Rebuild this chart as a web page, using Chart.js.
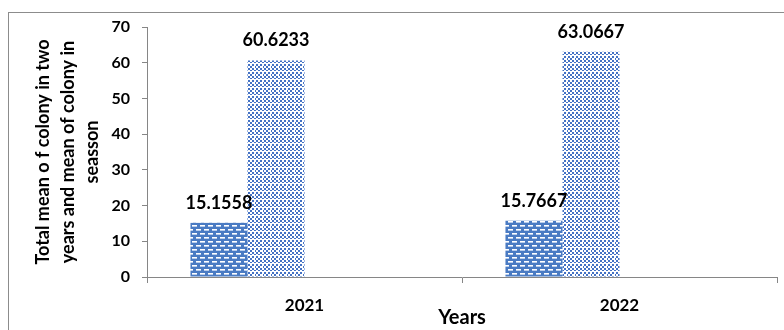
<!DOCTYPE html>
<html>
<head>
<meta charset="utf-8">
<script src="https://cdn.jsdelivr.net/npm/chart.js"></script>
<style>
  html, body { margin: 0; padding: 0; background: #fff; }
  #wrap { width: 784px; height: 330px; position: relative; }
</style>
</head>
<body>
<div id="wrap"><canvas id="myChart" width="784" height="330"></canvas></div>
<script>
// data
const years = ["2021", "2022"];
const meanTwoYears = [15.1558, 15.7667];
const meanSeason = [60.6233, 63.0667];
const emptySeries = [null, null];   // Excel left room for two more series
const yTitleLines = ["Total mean o f colony in two", "years and mean of colony in", "seasson"];
const xTitle = "Years";

const FONT = "Lato, 'Open Sans', sans-serif";
const AXIS_GRAY = "#868686";

function makePattern(w, h, draw) {
    const c = document.createElement("canvas");
    c.width = w;
    c.height = h;
    const g = c.getContext("2d");
    draw(g);
    return g.createPattern(c, "repeat");
}

// blue with staggered white dashes
const dashPattern = makePattern(8, 8, (g) => {
    g.fillStyle = "#4a7bc3";
    g.fillRect(0, 0, 8, 8);
    g.fillStyle = "#ffffff";
    g.fillRect(0, 1, 5, 1);
    g.fillRect(4, 5, 5, 1);
    g.fillRect(0, 5, 1, 1);
    g.fillStyle = "#b9cdeb";
    g.fillRect(0, 2, 5, 1);
    g.fillRect(4, 6, 4, 1);
    g.fillRect(0, 6, 1, 1);
});

// small blue/white checker with white seams
const checkPattern = makePattern(8, 8, (g) => {
    g.fillStyle = "#ffffff";
    g.fillRect(0, 0, 8, 8);
    g.fillStyle = "#4472c4";
    for (let y = 0; y < 8; y += 2) {
        for (let x = 0; x < 8; x += 2) {
            if (((x + y) / 2) % 2 === 0) g.fillRect(x, y, 2, 2);
        }
    }
    g.fillStyle = "#ffffff";
    g.fillRect(0, 7, 8, 1);
    g.fillRect(6, 2, 1, 3);
});

const frame = {
    id: "frame",
    beforeDraw(chart) {
        const ctx = chart.ctx;
        ctx.save();
        ctx.fillStyle = "#fff";
        ctx.fillRect(0, 0, chart.width, chart.height);
        ctx.strokeStyle = "#8c8c8c";
        ctx.lineWidth = 1;
        ctx.strokeRect(8.5, 12.5, 900, 500);
        ctx.restore();
    }
};

const barLabels = {
    id: "barLabels",
    afterDatasetsDraw(chart) {
        const ctx = chart.ctx;
        ctx.save();
        ctx.font = "bold 18px " + FONT;
        ctx.fillStyle = "#000";
        ctx.textAlign = "center";
        ctx.textBaseline = "bottom";
        chart.data.datasets.forEach((ds, i) => {
            chart.getDatasetMeta(i).data.forEach((bar, j) => {
                if (ds.data[j] == null) return;
                ctx.fillText(String(ds.data[j]), bar.x, bar.y - 11);
            });
        });
        ctx.restore();
    }
};

const data = {
    labels: years,
    datasets: [
        { label: "Two years", data: meanTwoYears, backgroundColor: dashPattern, borderWidth: 0 },
        { label: "Season", data: meanSeason, backgroundColor: checkPattern, borderWidth: 0 },
        { label: "", data: emptySeries },
        { label: "", data: emptySeries }
    ]
};

const config = {
    type: "bar",
    data,
    options: {
        responsive: false,
        animation: false,
        categoryPercentage: 0.724,
        barPercentage: 1,
        layout: { padding: { top: 27, right: 7, left: 0, bottom: 0 } },
        plugins: {
            legend: { display: false },
            tooltip: { enabled: false }
        },
        scales: {
            x: {
                grid: { offset: true, drawOnChartArea: false, tickLength: 6, color: AXIS_GRAY },
                border: { color: AXIS_GRAY },
                ticks: { color: "#000", padding: 12, font: { family: FONT, size: 17, weight: "bold" } },
                title: {
                    display: true, text: xTitle, color: "#000",
                    font: { family: FONT, size: 20, weight: "bold", lineHeight: 1.2 },
                    padding: { top: 0, bottom: 0 }
                },
                afterFit(s) { s.height = 53; }
            },
            y: {
                min: 0,
                max: 70,
                grid: { drawOnChartArea: false, tickLength: 5, color: AXIS_GRAY },
                border: { color: AXIS_GRAY },
                ticks: { stepSize: 10, color: "#000", padding: 12, font: { family: FONT, size: 16, weight: "bold" } },
                title: {
                    display: true, text: yTitleLines, color: "#000",
                    font: { family: FONT, size: 18, weight: "bold", lineHeight: 1.36 },
                    padding: { top: 31, bottom: 0 }
                },
                afterFit(s) { s.width = 147; }
            }
        }
    },
    plugins: [frame, barLabels]
};

const myChart = new Chart(document.getElementById("myChart"), config);
</script>
</body>
</html>
